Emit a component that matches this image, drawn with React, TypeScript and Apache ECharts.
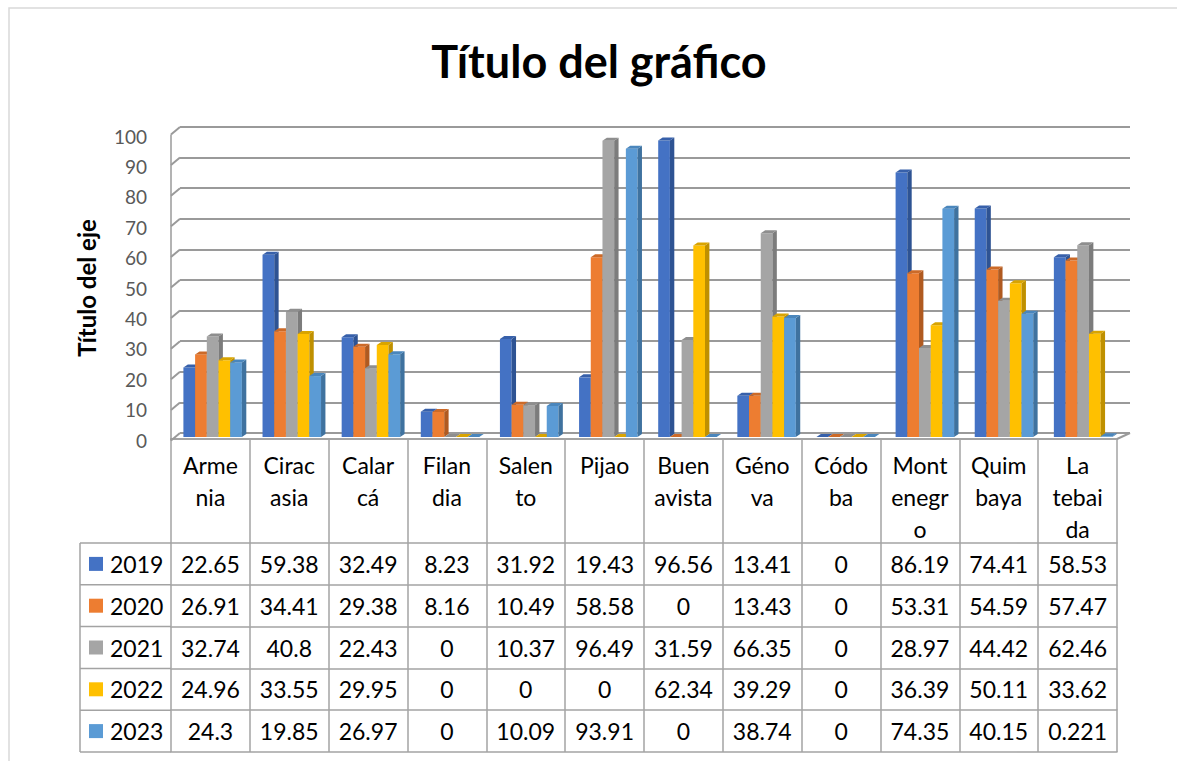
import React, { useEffect, useRef } from "react";
import * as echarts from "echarts";

const categoryLabels = [
  "Arme\nnia", "Cirac\nasia", "Calar\ncá", "Filan\ndia", "Salen\nto", "Pijao",
  "Buen\navista", "Géno\nva", "Códo\nba", "Mont\nenegr\no", "Quim\nbaya", "La\ntebai\nda",
];
const years = ["2019", "2020", "2021", "2022", "2023"];
const v2019 = [22.65, 59.38, 32.49, 8.23, 31.92, 19.43, 96.56, 13.41, 0, 86.19, 74.41, 58.53];
const v2020 = [26.91, 34.41, 29.38, 8.16, 10.49, 58.58, 0, 13.43, 0, 53.31, 54.59, 57.47];
const v2021 = [32.74, 40.8, 22.43, 0, 10.37, 96.49, 31.59, 66.35, 0, 28.97, 44.42, 62.46];
const v2022 = [24.96, 33.55, 29.95, 0, 0, 0, 62.34, 39.29, 0, 36.39, 50.11, 33.62];
const v2023 = [24.3, 19.85, 26.97, 0, 10.09, 93.91, 0, 38.74, 0, 74.35, 40.15, 0.221];
const yTicks = [0, 10, 20, 30, 40, 50, 60, 70, 80, 90, 100];

const seriesValues = [v2019, v2020, v2021, v2022, v2023];
const frontColors = ["#4472C4", "#ED7D31", "#A5A5A5", "#FFC000", "#5B9BD5"];
const sideColors = ["#2E5393", "#B05A20", "#7C7C7C", "#BF9000", "#3F729F"];
const topColors = ["#3760AA", "#CC6A28", "#8E8E8E", "#D9A400", "#4A86BC"];

const FONT = "Lato, 'Open Sans', sans-serif";
const W = 1177;
const H = 761;
const GRID_LEFT = 171;
const GRID_RIGHT_X = 1117;
const BAR_BASE_Y = 437;
const BAR_TOP_Y = 130;
const BAR_W = 11.7;
const BAR_OFFSET = 12.4;
const BAR_DRIFT = 0.3;
const DX = 4.4;
const DY = 3;
const FLOOR_Y = 439;
const HEADER_H = 104;
const ROW_H = 41.8;
const TABLE_LEFT = 80;
const LINE_COLOR = "#a3a3a3";
const GRID_COLOR = "#9a9a9a";
const TABLE_FONT_SIZE = 23;

export default function App() {
  const ref = useRef<HTMLDivElement>(null);

  useEffect(() => {
    if (!ref.current) return;
    const chart = echarts.init(ref.current, undefined, { renderer: "svg" });

    const gridBottom = H - BAR_BASE_Y;
    const gridRight = W - GRID_RIGHT_X;

    const barSeries = seriesValues.map((vals, si) => ({
      type: "custom",
      name: years[si],
      xAxisIndex: 0,
      yAxisIndex: 0,
      itemStyle: { color: frontColors[si] },
      data: vals.map((v, i) => [i, v]),
      renderItem: (params: any, api: any) => {
        const ci = api.value(0) as number;
        const v = api.value(1) as number;
        const b = api.coord([ci, 0]);
        const t = api.coord([ci, v]);
        const band = api.size([1, 0])[0];
        const x0 = b[0] - band / 2 + BAR_OFFSET + BAR_DRIFT * ci + si * BAR_W;
        const x1 = x0 + BAR_W;
        const yb = b[1];
        const yt = t[1];
        const children: any[] = [];
        if (yb - yt > 0.3) {
          children.push({
            type: "rect",
            shape: { x: x0, y: yt, width: BAR_W, height: yb - yt },
            style: { fill: frontColors[si] },
          });
          children.push({
            type: "polygon",
            shape: { points: [[x1, yt], [x1 + DX, yt - DY], [x1 + DX, yb - DY], [x1, yb]] },
            style: { fill: sideColors[si] },
          });
        }
        children.push({
          type: "polygon",
          shape: { points: [[x0, yt], [x0 + DX, yt - DY], [x1 + DX, yt - DY], [x1, yt]] },
          style: { fill: topColors[si] },
        });
        return { type: "group", children };
      },
    }));

    const wallSeries = {
      type: "custom",
      xAxisIndex: 1,
      yAxisIndex: 1,
      silent: true,
      z: 1,
      data: yTicks.map((v) => [0, v]),
      renderItem: (params: any, api: any) => {
        const v = api.value(1) as number;
        const p = api.coord([0, v]);
        const children: any[] = [
          {
            type: "line",
            shape: { x1: GRID_LEFT, y1: p[1] + 7.5, x2: p[0], y2: p[1] },
            style: { stroke: GRID_COLOR, lineWidth: 2 },
          },
        ];
        if (v === 100) {
          const p0 = api.coord([0, 0]);
          children.push({
            type: "line",
            shape: { x1: GRID_LEFT, y1: p[1] + 7.5, x2: GRID_LEFT, y2: p0[1] + 7.5 },
            style: { stroke: GRID_COLOR, lineWidth: 1.5 },
          });
        }
        if (v === 0) {
          const pr = api.coord([1, 0]);
          children.push({
            type: "line",
            shape: { x1: GRID_RIGHT_X, y1: FLOOR_Y, x2: pr[0], y2: pr[1] },
            style: { stroke: GRID_COLOR, lineWidth: 2 },
          });
        }
        return { type: "group", children };
      },
    };

    const tableText = { fontFamily: FONT, fontSize: TABLE_FONT_SIZE, color: "#000" };

    const headerAxis = {
      type: "category",
      gridIndex: 0,
      position: "bottom",
      offset: FLOOR_Y - BAR_BASE_Y,
      data: categoryLabels,
      axisLine: { show: true, onZero: false, lineStyle: { color: LINE_COLOR, width: 2 } },
      axisTick: { show: true, interval: 0, length: HEADER_H, lineStyle: { color: LINE_COLOR, width: 1.5 } },
      axisLabel: { ...tableText, interval: 0, margin: 10, verticalAlign: "top", lineHeight: 32 },
      splitLine: { show: false },
    };

    const rowAxes = seriesValues.map((vals, r) => ({
      type: "category",
      gridIndex: 0,
      position: "bottom",
      offset: FLOOR_Y - BAR_BASE_Y + HEADER_H + ROW_H * r,
      data: categoryLabels,
      axisLine: { show: true, onZero: false, lineStyle: { color: LINE_COLOR, width: 1.5 } },
      axisTick: { show: true, interval: 0, length: ROW_H, lineStyle: { color: LINE_COLOR, width: 1.5 } },
      axisLabel: {
        ...tableText,
        interval: 0,
        margin: ROW_H / 2,
        verticalAlign: "middle",
        formatter: (_: string, idx: number) => String(vals[idx]),
      },
      splitLine: { show: false },
    }));

    const bottomAxis = {
      type: "category",
      gridIndex: 0,
      position: "bottom",
      offset: FLOOR_Y - BAR_BASE_Y + HEADER_H + ROW_H * years.length,
      data: categoryLabels,
      axisLine: { show: true, onZero: false, lineStyle: { color: LINE_COLOR, width: 1.5 } },
      axisTick: { show: false },
      axisLabel: { show: false },
      splitLine: { show: false },
    };

    const tableTop = FLOOR_Y + HEADER_H;
    const legendGraphics: any[] = [];
    for (let r = 0; r <= years.length; r++) {
      const y = tableTop + ROW_H * r;
      legendGraphics.push({
        type: "line",
        shape: { x1: TABLE_LEFT, y1: y, x2: GRID_LEFT, y2: y },
        style: { stroke: LINE_COLOR, lineWidth: 1.5 },
      });
    }
    legendGraphics.push({
      type: "line",
      shape: { x1: TABLE_LEFT, y1: tableTop, x2: TABLE_LEFT, y2: tableTop + ROW_H * years.length },
      style: { stroke: LINE_COLOR, lineWidth: 1.5 },
    });
    years.forEach((yr, r) => {
      const cy = tableTop + ROW_H * r + ROW_H / 2;
      legendGraphics.push({
        type: "rect",
        shape: { x: 89, y: cy - 7, width: 14, height: 14 },
        style: { fill: frontColors[r] },
      });
      legendGraphics.push({
        type: "text",
        x: 110,
        y: cy,
        style: { text: yr, fontFamily: FONT, fontSize: TABLE_FONT_SIZE, fill: "#000", align: "left", verticalAlign: "middle" },
      });
    });

    chart.setOption({
      animation: false,
      backgroundColor: "#ffffff",
      title: {
        text: "Título del gráfico",
        left: 594,
        top: 33,
        textAlign: "center",
        textStyle: { fontFamily: FONT, fontSize: 45, fontWeight: "bold", color: "#000" },
      },
      grid: [
        { left: GRID_LEFT, right: gridRight, top: BAR_TOP_Y, bottom: gridBottom },
        { left: 180, right: W - 1130, top: 127, bottom: H - 433 },
        { left: GRID_LEFT, right: gridRight, top: 136, bottom: H - 440 },
      ],
      xAxis: [
        headerAxis,
        { type: "value", gridIndex: 1, min: 0, max: 1, show: false },
        { type: "value", gridIndex: 2, min: 0, max: 1, show: false },
        ...rowAxes,
        bottomAxis,
      ],
      yAxis: [
        {
          type: "value", gridIndex: 0, min: 0, max: 100, interval: 10,
          axisLine: { show: false }, axisTick: { show: false }, axisLabel: { show: false }, splitLine: { show: false },
        },
        {
          type: "value", gridIndex: 1, min: 0, max: 100, interval: 10,
          axisLine: { show: false }, axisTick: { show: false }, axisLabel: { show: false },
          splitLine: { show: true, lineStyle: { color: GRID_COLOR, width: 2 } },
        },
        {
          type: "value", gridIndex: 2, min: 0, max: 100, interval: 10,
          axisLine: { show: false }, axisTick: { show: false }, splitLine: { show: false },
          axisLabel: { show: true, margin: 24, fontFamily: FONT, fontSize: 19, color: "#595959" },
        },
      ],
      graphic: [
        {
          type: "rect",
          shape: { x: 9, y: 8, width: 1300, height: 900 },
          style: { fill: "none", stroke: "#d9d9d9", lineWidth: 1.5 },
          z: -10,
        },
        {
          type: "text",
          x: 86,
          y: 288,
          rotation: Math.PI / 2,
          style: {
            text: "Título del eje", fontFamily: FONT, fontSize: 24, fontWeight: "bold",
            fill: "#000", align: "center", verticalAlign: "middle",
          },
        },
        ...legendGraphics,
      ],
      series: [wallSeries, ...barSeries],
    });

    return () => chart.dispose();
  }, []);

  return (
    <div
      ref={ref}
      style={{ position: "fixed", left: 0, top: 0, width: W, height: H, background: "#fff" }}
    />
  );
}
